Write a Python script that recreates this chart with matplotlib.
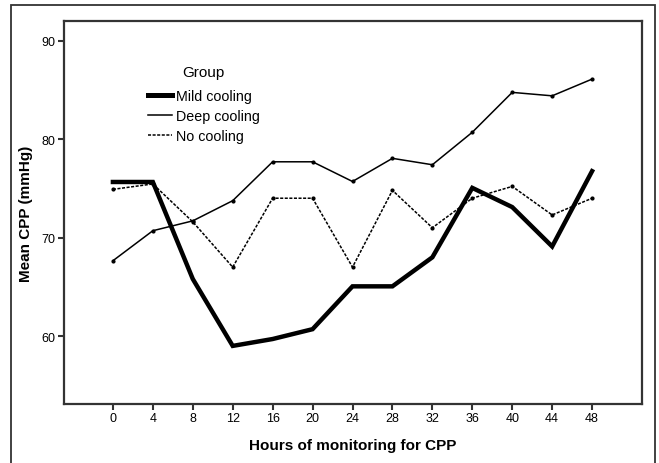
import matplotlib
matplotlib.use("Agg")
import matplotlib.pyplot as plt
from matplotlib.patches import Rectangle
from matplotlib.lines import Line2D

hours = [0, 4, 8, 12, 16, 20, 24, 28, 32, 36, 40, 44, 48]
mild = [75.65, 75.65, 65.8, 59.0, 59.7, 60.7, 65.05, 65.05, 68.0, 75.05, 73.1, 69.1, 76.75]
deep = [67.65, 70.7, 71.7, 73.75, 77.7, 77.7, 75.7, 78.05, 77.4, 80.7, 84.75, 84.4, 86.1]
none = [74.9, 75.45, 71.6, 67.0, 74.0, 74.0, 67.0, 74.8, 71.0, 74.0, 75.2, 72.3, 74.0]
yticks = [60, 70, 80, 90]
labels = ['Mild cooling', 'Deep cooling', 'No cooling']

plt.rcParams['font.family'] = ['Liberation Sans', 'DejaVu Sans']

fig = plt.figure(figsize=(6.59, 4.64), dpi=100)
ax = fig.add_axes([64/659, 1-405/464, (642-64)/659, (405-22)/464])

fig.patches.append(Rectangle((11/659, -0.05), (655-11)/659, 1.05-6/464,
                             transform=fig.transFigure, fill=False,
                             edgecolor='#333333', linewidth=1.3))

ax.plot(hours, mild, color='black', linewidth=3.2, solid_joinstyle='miter')
ax.plot(hours, deep, color='black', linewidth=1.1, marker='o', markersize=2.0)
ax.plot(hours, none, color='black', linewidth=1.1, linestyle=(0, (2, 1)),
        marker='o', markersize=2.0)

ax.set_xlim(-4.9, 53)
ax.set_ylim(53.1, 92.0)
ax.set_xticks(hours)
ax.set_yticks(yticks)
ax.tick_params(labelsize=9, length=4, width=1.5, color='#333333', pad=2)
for s in ax.spines.values():
    s.set_linewidth(1.6)
    s.set_color('#333333')

ax.set_xlabel('Hours of monitoring for CPP', fontsize=11, fontweight='bold', labelpad=10)
ax.set_ylabel('Mean CPP (mmHg)', fontsize=11, fontweight='bold', labelpad=6)

handles = [Line2D([], [], color='black', linewidth=3.6),
           Line2D([], [], color='black', linewidth=1.1),
           Line2D([], [], color='black', linewidth=1.1, linestyle=(0, (2, 1)))]
leg = ax.legend(handles, labels, title='Group', loc='upper left',
                bbox_to_anchor=(0.145, 0.885), borderpad=0, borderaxespad=0,
                frameon=False, fontsize=10.3, title_fontsize=11,
                handlelength=1.7, handletextpad=0.25, labelspacing=0.42)
leg._legend_box.sep = 7

fig.savefig('out.png', dpi=100)
